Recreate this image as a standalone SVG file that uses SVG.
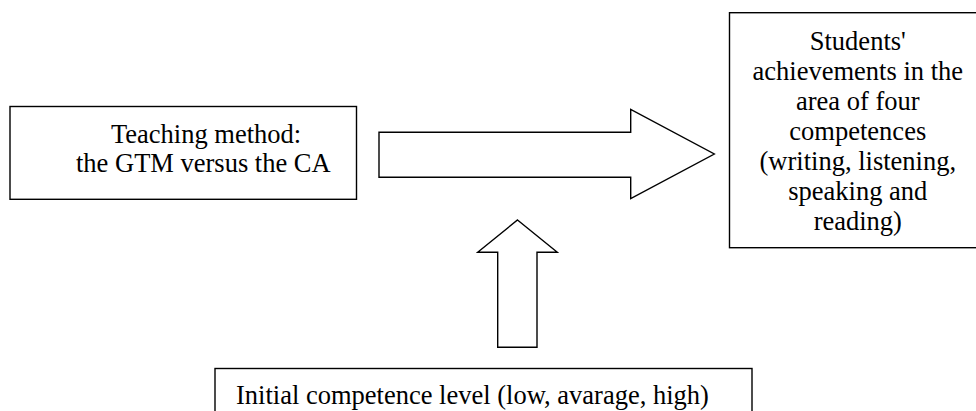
<svg xmlns="http://www.w3.org/2000/svg" width="976" height="411" viewBox="0 0 976 411">
  <style>
    .box { fill: #ffffff; stroke: #000000; stroke-width: 1.4; }
    .arrow { fill: #ffffff; stroke: #000000; stroke-width: 1.4; stroke-linejoin: miter; }
    .t { font-size: 26.5px; fill: #000000; }
    .c { text-anchor: middle; }
  </style>
  <rect width="976" height="411" fill="#ffffff"/>
  <g font-family="'Liberation Serif', Tinos, 'Times New Roman', 'DejaVu Serif', serif">
  <g id="teaching-method">
    <rect class="box" x="10" y="106.5" width="346.5" height="92.8"/>
    <text class="t" x="111" y="143">Teaching method:</text>
    <text class="t" x="76" y="172">the GTM versus the CA</text>
  </g>
  <g id="students-achievements">
    <rect class="box" x="729.5" y="12.7" width="258" height="235"/>
    <text class="t c" x="857.8" y="50">Students'</text>
    <text class="t c" x="857.8" y="80">achievements in the</text>
    <text class="t c" x="857.8" y="110">area of four</text>
    <text class="t c" x="857.8" y="140">competences</text>
    <text class="t c" x="857.8" y="170">(writing, listening,</text>
    <text class="t c" x="857.8" y="200">speaking and</text>
    <text class="t c" x="857.8" y="230">reading)</text>
  </g>
  <g id="initial-competence">
    <rect class="box" x="215" y="368.5" width="537" height="60"/>
    <text class="t" x="236" y="404">Initial competence level (low, avarage, high)</text>
  </g>
  </g>
  <g id="connectors">
    <polygon class="arrow" points="379,132.3 630.7,132.3 630.7,109.3 714.3,154 630.7,198.7 630.7,177.3 379,177.3"/>
    <polygon class="arrow" points="517.5,220 557.3,252.3 537,252.3 537,347.3 497.7,347.3 497.7,252.3 477.7,252.3"/>
  </g>
</svg>
